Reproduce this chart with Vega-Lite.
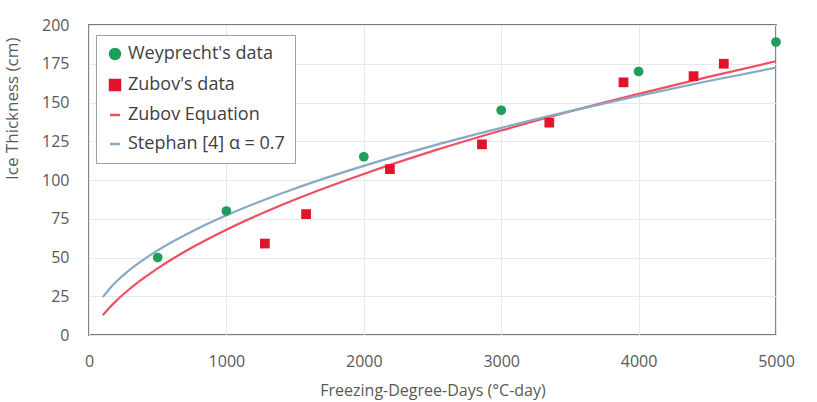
{
  "$schema": "https://vega.github.io/schema/vega-lite/v6.json",
  "width": 687,
  "height": 310,
  "autosize": {"type": "none"},
  "padding": {"left": 89, "top": 25, "right": 41, "bottom": 67},
  "background": "white",
  "config": {
    "font": "Open Sans",
    "view": {"stroke": "#7a7a7a", "strokeWidth": 1.8},
    "axis": {
      "domain": false,
      "ticks": false,
      "grid": true,
      "gridColor": "#e8e8e8",
      "gridWidth": 1,
      "labelFlush": false,
      "labelFont": "Open Sans",
      "labelFontSize": 16,
      "labelColor": "#595959",
      "titleFont": "Open Sans",
      "titleFontSize": 16,
      "titleFontWeight": "normal",
      "titleColor": "#595959"
    }
  },
  "datasets": {
    "points": [
      {"series": "Weyprecht's data", "fdd": 500, "h": 50},
      {"series": "Weyprecht's data", "fdd": 1000, "h": 80},
      {"series": "Weyprecht's data", "fdd": 2000, "h": 115},
      {"series": "Weyprecht's data", "fdd": 3000, "h": 145},
      {"series": "Weyprecht's data", "fdd": 4000, "h": 170},
      {"series": "Weyprecht's data", "fdd": 5000, "h": 189},
      {"series": "Zubov's data", "fdd": 1280, "h": 59},
      {"series": "Zubov's data", "fdd": 1580, "h": 78},
      {"series": "Zubov's data", "fdd": 2190, "h": 107},
      {"series": "Zubov's data", "fdd": 2860, "h": 123},
      {"series": "Zubov's data", "fdd": 3350, "h": 137},
      {"series": "Zubov's data", "fdd": 3890, "h": 163},
      {"series": "Zubov's data", "fdd": 4400, "h": 167},
      {"series": "Zubov's data", "fdd": 4620, "h": 175}
    ],
    "curves": [
      {"series": "Zubov Equation", "fdd": 100, "h": 12.7},
      {"series": "Zubov Equation", "fdd": 150, "h": 17.7},
      {"series": "Zubov Equation", "fdd": 200, "h": 22.2},
      {"series": "Zubov Equation", "fdd": 300, "h": 30.0},
      {"series": "Zubov Equation", "fdd": 400, "h": 36.8},
      {"series": "Zubov Equation", "fdd": 500, "h": 43.0},
      {"series": "Zubov Equation", "fdd": 600, "h": 48.7},
      {"series": "Zubov Equation", "fdd": 750, "h": 56.4},
      {"series": "Zubov Equation", "fdd": 1000, "h": 67.9},
      {"series": "Zubov Equation", "fdd": 1500, "h": 87.4},
      {"series": "Zubov Equation", "fdd": 2000, "h": 103.9},
      {"series": "Zubov Equation", "fdd": 2500, "h": 118.6},
      {"series": "Zubov Equation", "fdd": 3000, "h": 131.9},
      {"series": "Zubov Equation", "fdd": 3500, "h": 144.2},
      {"series": "Zubov Equation", "fdd": 4000, "h": 155.6},
      {"series": "Zubov Equation", "fdd": 4500, "h": 166.4},
      {"series": "Zubov Equation", "fdd": 5000, "h": 176.6},
      {"series": "Stephan [4] α = 0.7", "fdd": 100, "h": 24.4},
      {"series": "Stephan [4] α = 0.7", "fdd": 150, "h": 29.9},
      {"series": "Stephan [4] α = 0.7", "fdd": 200, "h": 34.5},
      {"series": "Stephan [4] α = 0.7", "fdd": 300, "h": 42.3},
      {"series": "Stephan [4] α = 0.7", "fdd": 400, "h": 48.8},
      {"series": "Stephan [4] α = 0.7", "fdd": 500, "h": 54.6},
      {"series": "Stephan [4] α = 0.7", "fdd": 600, "h": 59.8},
      {"series": "Stephan [4] α = 0.7", "fdd": 750, "h": 66.8},
      {"series": "Stephan [4] α = 0.7", "fdd": 1000, "h": 77.2},
      {"series": "Stephan [4] α = 0.7", "fdd": 1500, "h": 94.5},
      {"series": "Stephan [4] α = 0.7", "fdd": 2000, "h": 109.1},
      {"series": "Stephan [4] α = 0.7", "fdd": 2500, "h": 122.0},
      {"series": "Stephan [4] α = 0.7", "fdd": 3000, "h": 133.6},
      {"series": "Stephan [4] α = 0.7", "fdd": 3500, "h": 144.4},
      {"series": "Stephan [4] α = 0.7", "fdd": 4000, "h": 154.3},
      {"series": "Stephan [4] α = 0.7", "fdd": 4500, "h": 163.7},
      {"series": "Stephan [4] α = 0.7", "fdd": 5000, "h": 172.5}
    ]
  },
  "encoding": {
    "x": {
      "field": "fdd",
      "type": "quantitative",
      "scale": {"domain": [0, 5000], "nice": false},
      "axis": {
        "title": "Freezing-Degree-Days (°C-day)",
        "values": [0, 1000, 2000, 3000, 4000, 5000],
        "format": "d",
        "labelPadding": 18,
        "titlePadding": 13
      }
    },
    "y": {
      "field": "h",
      "type": "quantitative",
      "scale": {"domain": [0, 200], "nice": false},
      "axis": {
        "title": "Ice Thickness (cm)",
        "values": [0, 25, 50, 75, 100, 125, 150, 175, 200],
        "labelPadding": 20,
        "titlePadding": 20,
        "titleAnchor": "end",
        "titleY": 12,
        "titleAlign": "right",
        "titleFontSize": 17
      }
    },
    "color": {
      "field": "series",
      "type": "nominal",
      "scale": {
        "domain": ["Weyprecht's data", "Zubov's data", "Zubov Equation", "Stephan [4] α = 0.7"],
        "range": ["#1e9e5c", "#e3132c", "#ef4f60", "#86aac4"]
      },
      "legend": {
        "title": null,
        "orient": "none",
        "legendX": 7,
        "legendY": 10,
        "fillColor": "white",
        "strokeColor": "#a0a0a0",
        "padding": 10,
        "labelFont": "Open Sans",
        "labelFontSize": 18,
        "labelColor": "#404040",
        "labelLimit": 300,
        "rowPadding": 11,
        "symbolSize": 100,
        "symbolStrokeWidth": 2.5,
        "labelOffset": 4,
        "encode": {
          "symbols": {
            "update": {
              "stroke": {"scale": "color", "field": "value"},
              "strokeWidth": {"value": 2.5}
            }
          }
        }
      }
    }
  },
  "layer": [
    {
      "data": {"name": "curves"},
      "mark": {"type": "line", "strokeWidth": 2.2, "interpolate": "monotone"},
      "encoding": {
        "shape": {
          "field": "series",
          "type": "nominal",
          "scale": {
            "domain": ["Weyprecht's data", "Zubov's data", "Zubov Equation", "Stephan [4] α = 0.7"],
            "range": ["circle", "square", "stroke", "stroke"]
          }
        }
      }
    },
    {
      "data": {"name": "points"},
      "mark": {"type": "point", "filled": true, "opacity": 1, "size": 95},
      "encoding": {
        "shape": {
          "field": "series",
          "type": "nominal",
          "scale": {
            "domain": ["Weyprecht's data", "Zubov's data", "Zubov Equation", "Stephan [4] α = 0.7"],
            "range": ["circle", "square", "stroke", "stroke"]
          }
        }
      }
    }
  ]
}
